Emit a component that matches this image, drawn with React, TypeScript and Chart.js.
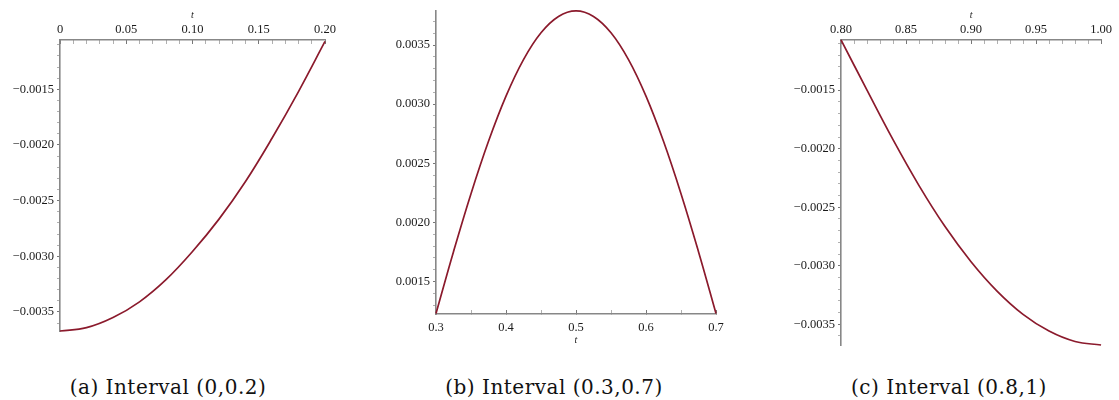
import React, { useEffect, useRef } from "react";
import { Chart, registerables } from "chart.js";
Chart.register(...registerables);

// ---------- data ----------
const tA = [0, 0.02, 0.04, 0.06, 0.08, 0.1, 0.12, 0.14, 0.16, 0.18, 0.2];
const yA = [-0.003671, -0.003641, -0.00355, -0.003409, -0.00321, -0.002957, -0.002666, -0.002328, -0.00194, -0.00152, -0.00107];

const tB = [0.3, 0.325, 0.35, 0.375, 0.4, 0.425, 0.45, 0.475, 0.5, 0.525, 0.55, 0.575, 0.6, 0.625, 0.65, 0.675, 0.7];
const yB = [0.001229, 0.001752, 0.002243, 0.002686, 0.003068, 0.003377, 0.003604, 0.003742, 0.003789, 0.003742, 0.003604, 0.003377, 0.003068, 0.002686, 0.002243, 0.001752, 0.001229];

const tC = [0.8, 0.82, 0.84, 0.86, 0.88, 0.9, 0.92, 0.94, 0.96, 0.98, 1.0];
const yC = [-0.001069, -0.0015, -0.001923, -0.002315, -0.002665, -0.002965, -0.003216, -0.003415, -0.003558, -0.003647, -0.003677];

// ---------- ticks ----------
const xTicksA = [0, 0.01, 0.02, 0.03, 0.04, 0.05, 0.06, 0.07, 0.08, 0.09, 0.1, 0.11, 0.12, 0.13, 0.14, 0.15, 0.16, 0.17, 0.18, 0.19, 0.2];
const xMajorA = [0, 0.05, 0.1, 0.15, 0.2];
const xLabelsA = ["0", "0.05", "0.10", "0.15", "0.20"];

const xTicksB = [0.3, 0.35, 0.4, 0.45, 0.5, 0.55, 0.6, 0.65, 0.7];
const xMajorB = [0.3, 0.4, 0.5, 0.6, 0.7];
const xLabelsB = ["0.3", "0.4", "0.5", "0.6", "0.7"];

const xTicksC = [0.8, 0.81, 0.82, 0.83, 0.84, 0.85, 0.86, 0.87, 0.88, 0.89, 0.9, 0.91, 0.92, 0.93, 0.94, 0.95, 0.96, 0.97, 0.98, 0.99, 1.0];
const xMajorC = [0.8, 0.85, 0.9, 0.95, 1.0];
const xLabelsC = ["0.80", "0.85", "0.90", "0.95", "1.00"];

const yTicksNeg = [-0.0036, -0.0035, -0.0034, -0.0033, -0.0032, -0.0031, -0.003, -0.0029, -0.0028, -0.0027, -0.0026, -0.0025, -0.0024, -0.0023, -0.0022, -0.0021, -0.002, -0.0019, -0.0018, -0.0017, -0.0016, -0.0015, -0.0014, -0.0013, -0.0012, -0.0011];
const yMajorNeg = [-0.0035, -0.003, -0.0025, -0.002, -0.0015];
const yLabelsNeg = ["\u22120.0035", "\u22120.0030", "\u22120.0025", "\u22120.0020", "\u22120.0015"];

const yTicksB = [0.0013, 0.0014, 0.0015, 0.0016, 0.0017, 0.0018, 0.0019, 0.002, 0.0021, 0.0022, 0.0023, 0.0024, 0.0025, 0.0026, 0.0027, 0.0028, 0.0029, 0.003, 0.0031, 0.0032, 0.0033, 0.0034, 0.0035, 0.0036, 0.0037];
const yMajorB = [0.0015, 0.002, 0.0025, 0.003, 0.0035];
const yLabelsB = ["0.0015", "0.0020", "0.0025", "0.0030", "0.0035"];

const captions = ["(a) Interval (0,0.2)", "(b) Interval (0.3,0.7)", "(c) Interval (0.8,1)"];

const LINE = "#8b1a2c";
const AXIS = "#878787";
const TEXT = "#1a1a1a";
const TICK_FONT = { family: "'Liberation Serif', 'Times New Roman', serif", size: 12.5 };
const TITLE_FONT = { family: "'Liberation Serif', 'Times New Roman', serif", size: 10, style: "italic" as const };

type PanelCfg = {
  xs: number[]; ys: number[];
  xMin: number; xMax: number; yMin: number; yMax: number;
  xTicks: number[]; xMajor: number[]; xLabels: string[];
  yTicks: number[]; yMajor: number[]; yLabels: string[];
  xPos: "top" | "bottom";
  box: { left: number; top: number; width: number; height: number };
  pad: { left: number; right: number; top: number; bottom: number };
  yAxisW: number; xAxisH: number;
  xLabelPad: number; titlePad: { top: number; bottom: number };
};

const findMajor = (v: number, majors: number[]) => majors.findIndex((m) => Math.abs(m - v) < 1e-9);

function Panel({ cfg }: { cfg: PanelCfg }) {
  const ref = useRef<HTMLCanvasElement>(null);
  useEffect(() => {
    const chart = new Chart(ref.current as HTMLCanvasElement, {
      type: "line",
      data: {
        datasets: [
          {
            data: cfg.xs.map((x, i) => ({ x, y: cfg.ys[i] })),
            borderColor: LINE,
            borderWidth: 1.7,
            pointRadius: 0,
            fill: false,
            tension: 0.4,
            clip: 5,
          } as any,
        ],
      },
      options: {
        responsive: false,
        animation: false,
        devicePixelRatio: 1,
        layout: { padding: cfg.pad },
        plugins: { legend: { display: false }, tooltip: { enabled: false } },
        scales: {
          x: {
            type: "linear",
            position: cfg.xPos,
            min: cfg.xMin,
            max: cfg.xMax,
            afterBuildTicks: (s: any) => {
              s.ticks = cfg.xTicks.map((v) => ({ value: v }));
            },
            afterFit: (s: any) => {
              s.height = cfg.xAxisH;
            },
            grid: {
              display: true,
              drawOnChartArea: false,
              drawTicks: true,
              tickLength: -4,
              tickWidth: 1,
              tickColor: (ctx: any) => (findMajor(ctx.tick?.value, cfg.xMajor) >= 0 ? "#777" : "#b0b0b0"),
            },
            border: { display: true, color: AXIS, width: 1.6 },
            ticks: {
              autoSkip: false,
              maxRotation: 0,
              minRotation: 0,
              padding: cfg.xLabelPad,
              color: TEXT,
              font: TICK_FONT,
              callback: (v: any) => {
                const i = findMajor(Number(v), cfg.xMajor);
                return i >= 0 ? cfg.xLabels[i] : "";
              },
            },
            title: { display: true, text: "t", color: TEXT, font: TITLE_FONT, padding: cfg.titlePad },
          },
          y: {
            type: "linear",
            position: "left",
            min: cfg.yMin,
            max: cfg.yMax,
            afterBuildTicks: (s: any) => {
              s.ticks = cfg.yTicks.map((v) => ({ value: v }));
            },
            afterFit: (s: any) => {
              s.width = cfg.yAxisW;
            },
            grid: {
              display: true,
              drawOnChartArea: false,
              drawTicks: true,
              tickLength: 3,
              tickWidth: 1,
              tickColor: (ctx: any) => (findMajor(ctx.tick?.value, cfg.yMajor) >= 0 ? "#777" : "#b0b0b0"),
            },
            border: { display: true, color: AXIS, width: 1.6 },
            ticks: {
              autoSkip: false,
              padding: 3,
              color: TEXT,
              font: TICK_FONT,
              callback: (v: any) => {
                const i = findMajor(Number(v), cfg.yMajor);
                return i >= 0 ? cfg.yLabels[i] : "";
              },
            },
          },
        },
      },
    });
    return () => chart.destroy();
  }, []);
  return (
    <canvas
      ref={ref}
      width={cfg.box.width}
      height={cfg.box.height}
      style={{ position: "absolute", left: cfg.box.left, top: cfg.box.top, width: cfg.box.width, height: cfg.box.height }}
    />
  );
}

const panels: PanelCfg[] = [
  {
    xs: tA, ys: yA, xMin: 0, xMax: 0.2, yMin: -0.003671, yMax: -0.001057,
    xTicks: xTicksA, xMajor: xMajorA, xLabels: xLabelsA,
    yTicks: yTicksNeg, yMajor: yMajorNeg, yLabels: yLabelsNeg,
    xPos: "top",
    box: { left: 0, top: 0, width: 360, height: 345 },
    pad: { left: 0, right: 35, top: 0, bottom: 14 },
    yAxisW: 60, xAxisH: 40, xLabelPad: 7, titlePad: { top: 9, bottom: 0 },
  },
  {
    xs: tB, ys: yB, xMin: 0.3, xMax: 0.7, yMin: 0.001225, yMax: 0.003792,
    xTicks: xTicksB, xMajor: xMajorB, xLabels: xLabelsB,
    yTicks: yTicksB, yMajor: yMajorB, yLabels: yLabelsB,
    xPos: "bottom",
    box: { left: 376, top: 0, width: 360, height: 350 },
    pad: { left: 0, right: 20, top: 10, bottom: 0 },
    yAxisW: 60, xAxisH: 36, xLabelPad: 10, titlePad: { top: 0, bottom: 4 },
  },
  {
    xs: tC, ys: yC, xMin: 0.8, xMax: 1.0, yMin: -0.003677, yMax: -0.001071,
    xTicks: xTicksC, xMajor: xMajorC, xLabels: xLabelsC,
    yTicks: yTicksNeg, yMajor: yMajorNeg, yLabels: yLabelsNeg,
    xPos: "top",
    box: { left: 780, top: 0, width: 339, height: 360 },
    pad: { left: 0, right: 12, top: 0, bottom: 15 },
    yAxisW: 61, xAxisH: 40, xLabelPad: 7, titlePad: { top: 9, bottom: 0 },
  },
];

const captionCenters = [168, 554, 949];

export default function App() {
  return (
    <div style={{ position: "absolute", left: 0, top: 0, width: 1119, height: 400, background: "#fff", overflow: "hidden" }}>
      {panels.map((p, i) => (
        <Panel key={i} cfg={p} />
      ))}
      {captions.map((c, i) => (
        <div
          key={c}
          style={{
            position: "absolute",
            left: captionCenters[i] - 200,
            width: 400,
            top: 375,
            lineHeight: "24px",
            textAlign: "center",
            fontFamily: "'DejaVu Serif', serif",
            fontSize: 20,
            letterSpacing: 0.5,
            color: "#111",
            whiteSpace: "nowrap",
          }}
        >
          {c}
        </div>
      ))}
    </div>
  );
}
